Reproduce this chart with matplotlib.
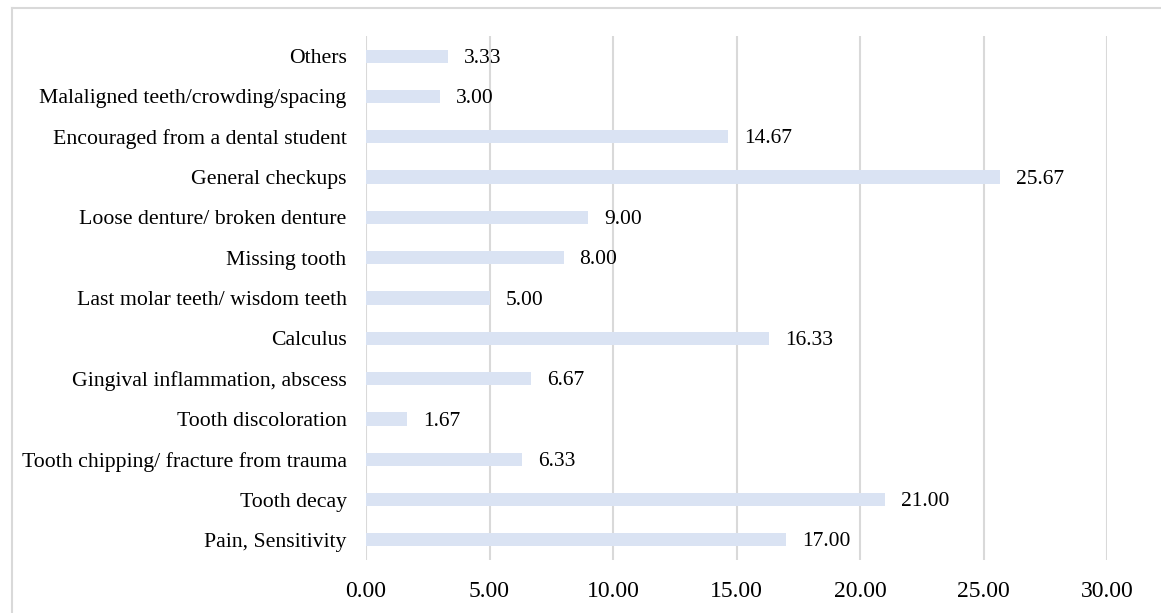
import matplotlib
matplotlib.use("Agg")
import matplotlib.pyplot as plt
from matplotlib.lines import Line2D

# Data, bottom to top as drawn
categories = [
    "Pain, Sensitivity",
    "Tooth decay",
    "Tooth chipping/ fracture from trauma",
    "Tooth discoloration",
    "Gingival inflammation, abscess",
    "Calculus",
    "Last molar teeth/ wisdom teeth",
    "Missing tooth",
    "Loose denture/ broken denture",
    "General checkups",
    "Encouraged from a dental student",
    "Malaligned teeth/crowding/spacing",
    "Others",
]
values = [17.00, 21.00, 6.33, 1.67, 6.67, 16.33, 5.00, 8.00, 9.00, 25.67, 14.67, 3.00, 3.33]
xticks = [0, 5, 10, 15, 20, 25, 30]

plt.rcParams["font.family"] = ["Liberation Serif", "DejaVu Serif"]

W, H = 1161, 613
fig = plt.figure(figsize=(W / 100, H / 100), dpi=100)
ax = fig.add_axes([366 / W, (H - 560) / H, 741 / W, 524 / H])

y = list(range(len(categories)))
ax.barh(y, values, height=0.33, color="#DAE3F3", zorder=2)

for yi, v in zip(y, values):
    ax.annotate(f"{v:.2f}", (v, yi), xytext=(11.5, -1.5), textcoords="offset points",
                ha="left", va="center", fontsize=15.5, color="black")

ax.set_xlim(0, 30)
ax.set_ylim(-0.5, len(categories) - 0.5)
ax.set_xticks(xticks)
ax.set_xticklabels([f"{t:.2f}" for t in xticks], fontsize=17)
ax.set_yticks(y)
ax.set_yticklabels(categories, fontsize=15.7)
ax.tick_params(axis="both", length=0)
ax.tick_params(axis="x", pad=15)
ax.tick_params(axis="y", pad=14)

ax.grid(axis="x", color="#D9D9D9", linewidth=1.5, zorder=0)
ax.set_axisbelow(True)
for s in ax.spines.values():
    s.set_visible(False)

# outer chart border (only top and left edges fall inside the image)
x0 = 11.5 / W
y1 = 1 - 7.5 / H
fig.add_artist(Line2D([x0, x0], [0, y1], transform=fig.transFigure, color="#D9D9D9", linewidth=1.5))
fig.add_artist(Line2D([x0, 1], [y1, y1], transform=fig.transFigure, color="#D9D9D9", linewidth=1.5))

fig.savefig("out.png", dpi=100, facecolor="white")
